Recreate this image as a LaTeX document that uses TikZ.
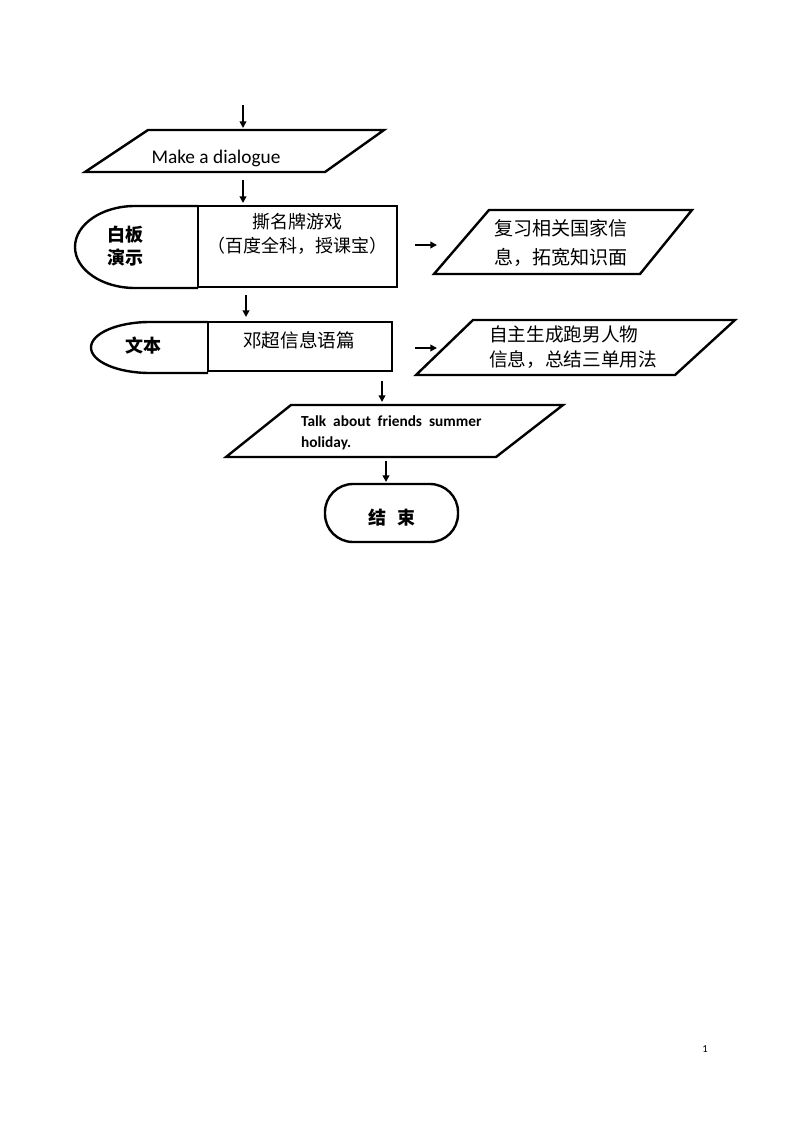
\documentclass[tikz,border=0pt]{standalone}
\usepackage{fontspec}
\setmainfont{Carlito}
\newfontfamily\cjk{Noto Sans CJK SC}
\usetikzlibrary{arrows.meta}
\begin{document}
\begin{tikzpicture}[x=0.75pt,y=-0.75pt,line width=1.8pt,line join=miter,
  arr/.style={-{Triangle[length=5pt,width=5pt]},line width=1.4pt,shorten >=0pt},
  cjktext/.style={font=\cjk\fontsize{14}{18}\selectfont,inner sep=0pt},
  cjkbold/.style={font=\cjk\bfseries\fontsize{13.5}{17}\selectfont,inner sep=0pt}]
\useasboundingbox (0,0) rectangle (794,1123);

% arrow ends
\coordinate (a0s) at (243,105); \coordinate (a0e) at (243,128);
\coordinate (a1s) at (243,180); \coordinate (a1e) at (243,203);
\coordinate (a2s) at (415,245); \coordinate (a2e) at (437,245);
\coordinate (a3s) at (246,295); \coordinate (a3e) at (246,317);
\coordinate (a4s) at (415,348); \coordinate (a4e) at (437,348);
\coordinate (a5s) at (382,381); \coordinate (a5e) at (382,402);
\coordinate (a6s) at (386,461); \coordinate (a6e) at (386,482);

% shape 1
\draw (148,130) -- (384,130) -- (325,172) -- (85,172) -- cycle;
\node[inner sep=0pt,font=\fontsize{14.5}{17}\selectfont] (p1) at (216,158) {Make a dialogue};

% shape 2
\draw (198,206) -- (135,206) arc[start angle=270,end angle=90,x radius=60,y radius=41] -- (198,288);
\draw (198,206) rectangle (397,287);
\node[cjkbold,align=center] (wb) at (125,246) {白板\\演示};
\node[cjktext,align=center,font=\cjk\fontsize{13.5}{18}\selectfont] (smp) at (297,234) {撕名牌游戏\\（百度全科，授课宝）};

% shape 3
\draw (489,210) -- (692,210) -- (640,274) -- (434,274) -- cycle;
\node[cjktext,align=left,anchor=west,font=\cjk\fontsize{14.3}{22}\selectfont] (fx) at (493,243) {复习相关国家信\\息，拓宽知识面};

% shape 4
\draw (208,322) -- (150,322) arc[start angle=270,end angle=90,x radius=59,y radius=25.5] -- (208,373);
\draw (208,322) rectangle (392,371);
\node[cjkbold] (wenben) at (143,346) {文本};
\node[cjktext] (dc) at (299,340) {邓超信息语篇};

% shape 5
\draw (473,320) -- (735,320) -- (675,375) -- (416,375) -- cycle;
\node[cjktext,align=left,anchor=west,font=\cjk\fontsize{14}{19}\selectfont] (zz) at (488,347) {自主生成跑男人物\\信息，总结三单用法};

% shape 6
\draw (291,405) -- (563,405) -- (496,457) -- (226,457) -- cycle;
\node[inner sep=0pt,align=left,anchor=west,font=\bfseries\fontsize{11.5}{16}\selectfont] (talk) at (300,433) {Talk\hspace{0.45em}about\hspace{0.45em}friends\hspace{0.45em}summer\\holiday.};

% end
\node[draw,rounded corners=21pt,minimum width=99.75pt,minimum height=43.5pt,inner sep=0pt] (end) at (391.5,513) {};
\node[cjkbold] (endt) at (392,518) {结\hspace{0.6em}束};

% page number
\node[inner sep=0pt,font=\fontsize{8}{10}\selectfont] (pg) at (705,1049) {1};

% arrows
\draw[arr] (a0s) -- (a0e);
\draw[arr] (a1s) -- (a1e);
\draw[arr] (a2s) -- (a2e);
\draw[arr] (a3s) -- (a3e);
\draw[arr] (a4s) -- (a4e);
\draw[arr] (a5s) -- (a5e);
\draw[arr] (a6s) -- (a6e);
\end{tikzpicture}
\end{document}
